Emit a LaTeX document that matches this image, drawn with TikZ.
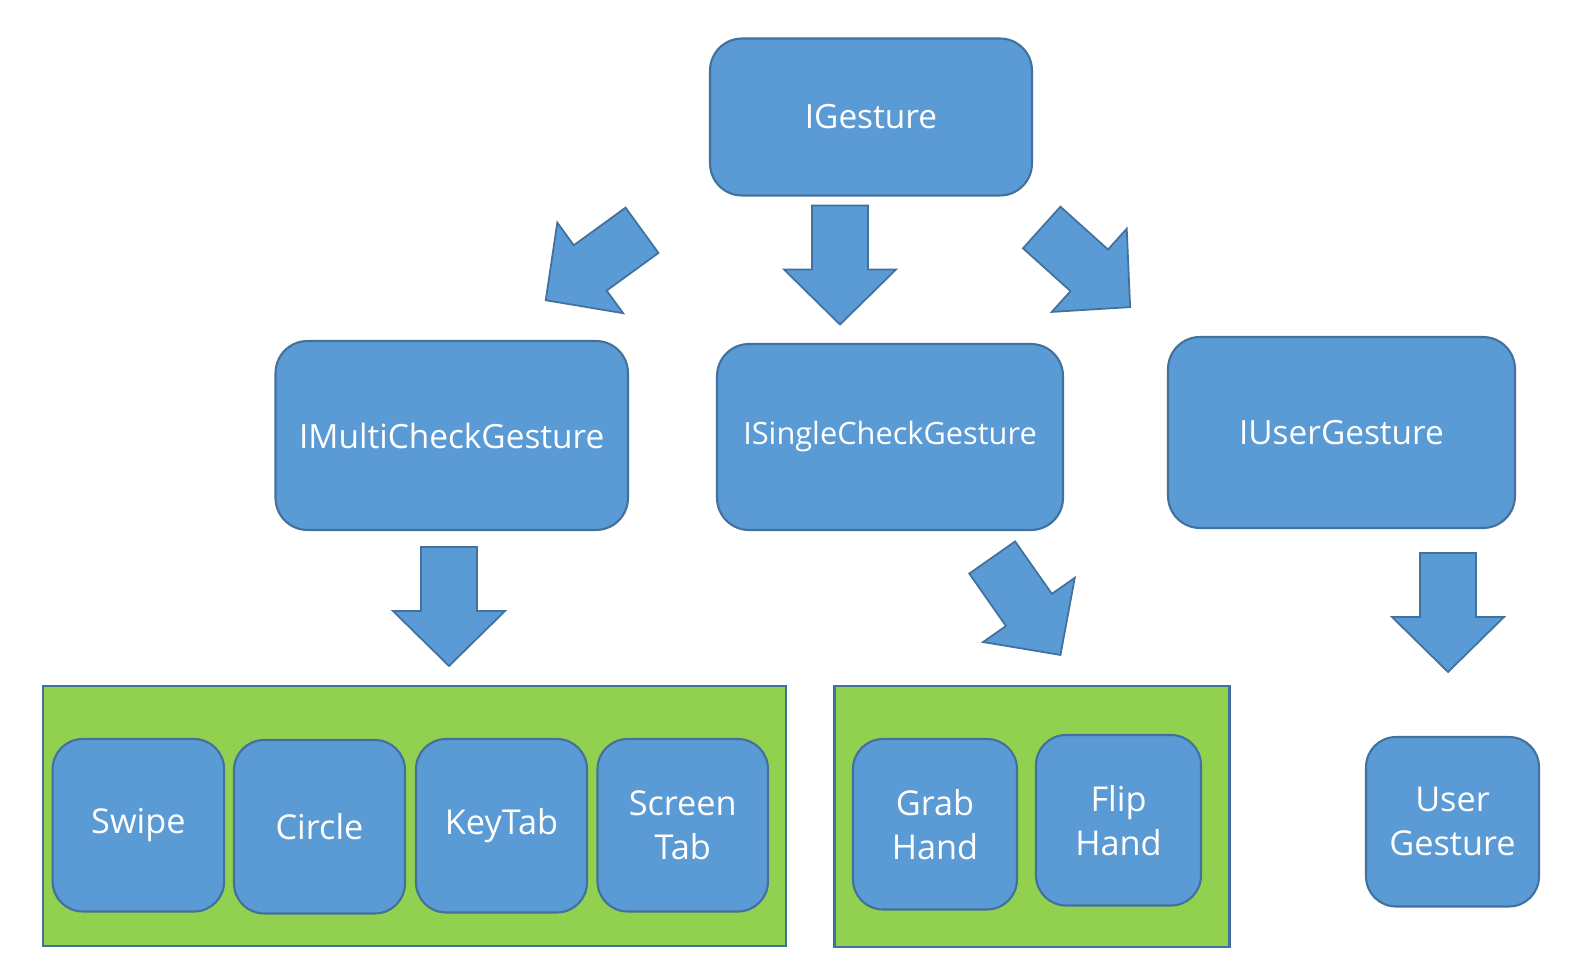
\documentclass[tikz,border=0pt]{standalone}
\usepackage{fontspec}
\setmainfont{Open Sans}
\usetikzlibrary{positioning, calc}
\definecolor{boxBlue}{HTML}{5B9BD5}
\definecolor{edgeBlue}{HTML}{41719C}
\definecolor{groupGreen}{HTML}{92D050}
\tikzset{
    gbox/.style={rounded corners=0.64cm, fill=boxBlue, draw=edgeBlue, line width=1.2pt,
        text=white, align=center, font=\fontsize{19}{25}\selectfont},
    leafbox/.style={gbox, rounded corners=0.6cm, font=\fontsize{19.5}{25}\selectfont},
    groupbox/.style={fill=groupGreen, draw=edgeBlue, line width=1.2pt},
    arrowfill/.style={fill=boxBlue, draw=edgeBlue, line width=1pt}
}
\newcommand{\DrawBlockArrow}[3]{
    \begin{scope}[shift={(#1,#2)}, rotate=#3]
        % shaft then head, pointing down before rotation
        \draw[arrowfill] (-28,0) -- (28,0) -- (28,64) -- (56,64) -- (0,119) -- (-56,64) -- (-28,64) -- cycle;
    \end{scope}
}
\begin{document}
\begin{tikzpicture}[x=0.02cm, y=-0.02cm]
        \useasboundingbox (0,0) rectangle (1588,972);
        % Top level
        \node[gbox, minimum width=6.44cm, minimum height=3.14cm] (igesture) at (871,117) {IGesture};

        % Second level
        \node[gbox, minimum width=7.05cm, minimum height=3.78cm] (imulti) at (451.75,435.5) {IMultiCheckGesture};
        \node[gbox, minimum width=6.92cm, minimum height=3.72cm, font=\fontsize{17.5}{21}\selectfont] (isingle) at (890,437) {ISingleCheckGesture};
        \node[gbox, minimum width=6.94cm, minimum height=3.82cm] (iuser) at (1341.5,432.5) {IUserGesture};

        % Groups
        \node[groupbox, minimum width=14.87cm, minimum height=5.2cm] (multigroup) at (414.25,816) {};
        \node[groupbox, minimum width=7.9cm, minimum height=5.22cm] (singlegroup) at (1032,816.5) {};

        % Leaves
        \node[leafbox, minimum width=3.43cm, minimum height=3.45cm] (swipe) at (138.4,825.25) {Swipe};
        \node[leafbox, minimum width=3.42cm, minimum height=3.47cm] (circle) at (319.5,826.75) {Circle};
        \node[leafbox, minimum width=3.42cm, minimum height=3.47cm] (keytab) at (501.5,825.75) {KeyTab};
        \node[leafbox, minimum width=3.41cm, minimum height=3.45cm] (screentab) at (682.75,825.25) {Screen\\Tab};
        \node[leafbox, minimum width=3.28cm, minimum height=3.41cm] (grabhand) at (935,824.25) {Grab\\Hand};
        \node[leafbox, minimum width=3.3cm, minimum height=3.41cm] (fliphand) at (1118.5,820.25) {Flip\\Hand};
        \node[leafbox, minimum width=3.46cm, minimum height=3.39cm] (usergesture) at (1452.5,821.75) {User\\Gesture};

        % Block arrows
        \DrawBlockArrow{642}{230.3}{-54}
        \DrawBlockArrow{840}{205.5}{0}
        \DrawBlockArrow{1041.7}{227.5}{48}
        \DrawBlockArrow{449}{547}{0}
        \DrawBlockArrow{992.2}{557.5}{35}
        \DrawBlockArrow{1448}{553}{0}
    \end{tikzpicture}
\end{document}
